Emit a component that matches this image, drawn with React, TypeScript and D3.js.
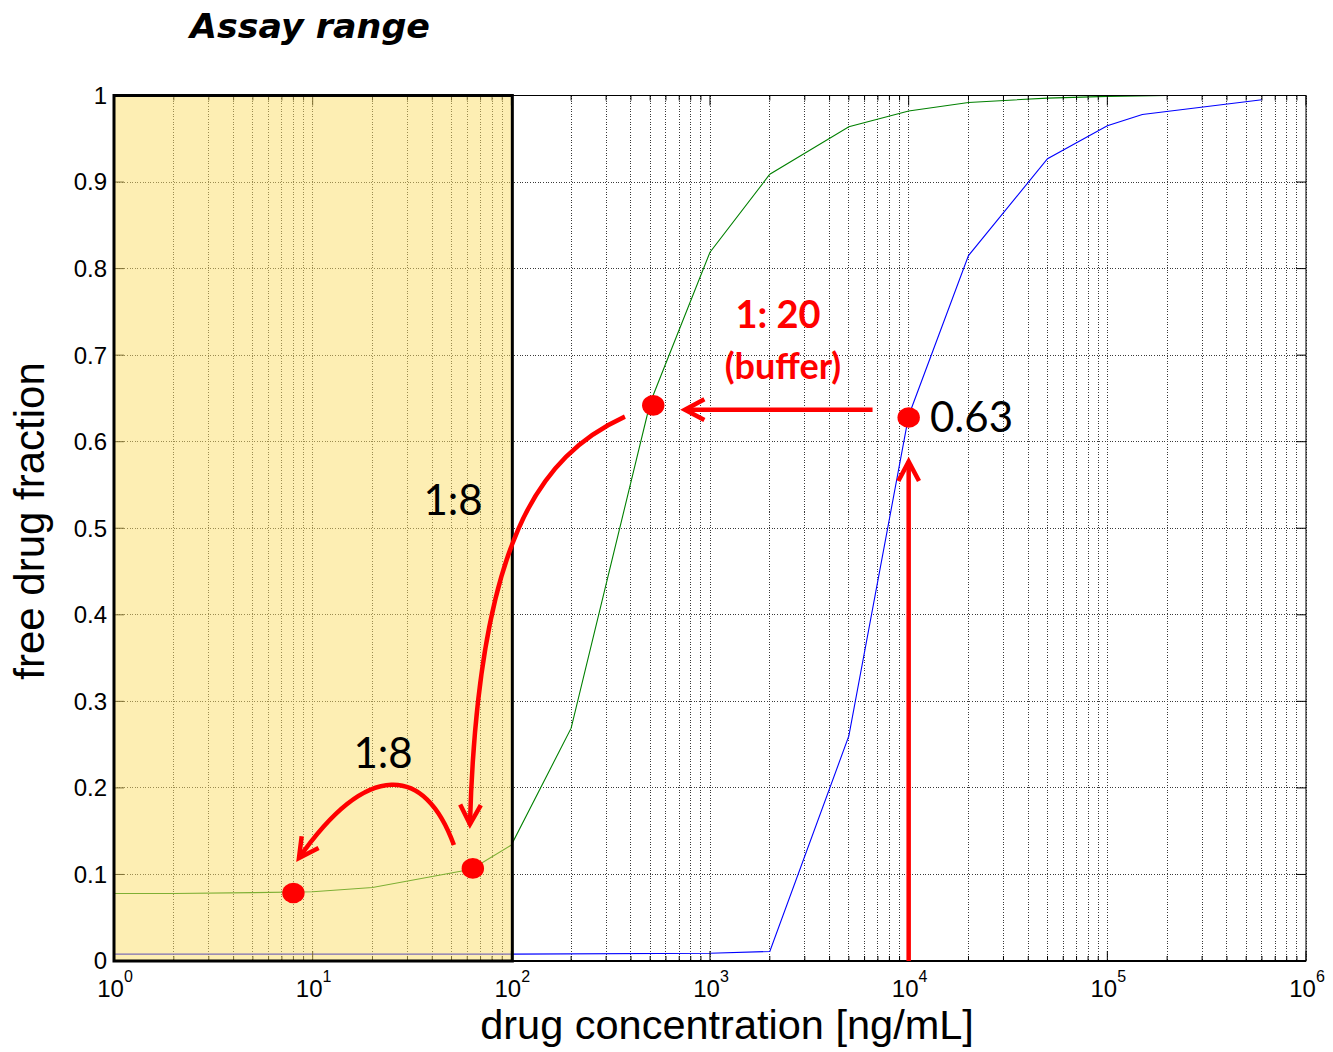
import React from "react";
import * as d3 from "d3";

// ---- data ----
const concGreen = [1, 2, 5, 10, 20, 63, 100, 200, 500, 1000, 2000, 5000, 10000, 20000, 50000, 100000, 200000, 600000];
const fracGreen = [0.078, 0.078, 0.079, 0.080, 0.085, 0.106, 0.134, 0.269, 0.645, 0.819, 0.909, 0.964, 0.982, 0.992, 0.997, 0.999, 1.0, 1.0];
const concBlue = [1, 10, 100, 1000, 2000, 5000, 10000, 20000, 50000, 100000, 150000, 600000];
const fracBlue = [0.008, 0.008, 0.008, 0.009, 0.011, 0.26, 0.63, 0.815, 0.927, 0.965, 0.978, 0.995];
const markerConc = [10000, 518, 64, 8];
const markerFrac = [0.628, 0.642, 0.107, 0.0785];
const yTicks = [0, 0.1, 0.2, 0.3, 0.4, 0.5, 0.6, 0.7, 0.8, 0.9, 1];
const yTickLabels = ["0", "0.1", "0.2", "0.3", "0.4", "0.5", "0.6", "0.7", "0.8", "0.9", "1"];
const xDecades = [0, 1, 2, 3, 4, 5, 6];
const assayRange = [1, 100];

const W = 1333, H = 1052;
const M = { left: 114, right: 1306, top: 95.5, bottom: 961 };

export default function App() {
  const x = d3.scaleLog().domain([1, 1e6]).range([M.left, M.right]);
  const y = d3.scaleLinear().domain([0, 1]).range([M.bottom, M.top]);

  const line = d3.line<[number, number]>().x(d => x(d[0])).y(d => y(d[1]));
  const green = line(concGreen.map((c, i) => [c, fracGreen[i]]));
  const blue = line(concBlue.map((c, i) => [c, fracBlue[i]]));

  const minor: number[] = [];
  for (let dcd = 0; dcd < 6; dcd++) for (let k = 2; k <= 9; k++) minor.push(k * Math.pow(10, dcd));
  const major = xDecades.map(d => Math.pow(10, d));

  const red = "#ff0000";
  const arrowHead = (tx: number, ty: number, dx: number, dy: number, L = 22, ang = 28) => {
    const n = Math.hypot(dx, dy);
    const ux = -dx / n, uy = -dy / n;
    const a = (ang * Math.PI) / 180;
    const r = (s: number) => [tx + L * (ux * Math.cos(s) - uy * Math.sin(s)), ty + L * (ux * Math.sin(s) + uy * Math.cos(s))];
    const p1 = r(a), p2 = r(-a);
    return `M${p1[0]},${p1[1]}L${tx},${ty}L${p2[0]},${p2[1]}`;
  };

  // arrows (data coordinates)
  const vTail = [x(10000), y(0)], vTip = [x(10000), y(0.577)];
  const hTail = [x(6580), y(0.637)], hTip = [x(748), y(0.637)];
  const c1s = [x(373), y(0.629)], c1e = [x(61.9), y(0.158)];
  const c1a = [c1s[0] - 85, c1s[1] + 39], c1b = [c1e[0] + 8, c1e[1] - 284];
  const c2s = [x(51.4), y(0.134)], c2e = [x(8.53), y(0.119)];
  const c2a = [c2s[0] - 29, c2s[1] - 80], c2b = [c2e[0] + 69, c2e[1] - 98];

  const gridStyle = { stroke: "#3a3a3a", strokeWidth: 1, strokeDasharray: "1 1.6", shapeRendering: "crispEdges" as const };
  const sans = "'Liberation Sans', Arial, sans-serif";
  const lato = "Lato, 'Open Sans', sans-serif";

  return (
    <svg width={W} height={H} style={{ position: "absolute", left: 0, top: 0, background: "#fff" }}>
      <rect x={0} y={0} width={W} height={H} fill="#fff" />
      {/* grid */}
      {[...minor, ...major].map((v, i) => (
        <line key={"gx" + i} x1={x(v)} x2={x(v)} y1={M.top} y2={M.bottom} {...gridStyle} />
      ))}
      {yTicks.map((v, i) => (
        <line key={"gy" + i} x1={M.left} x2={M.right} y1={y(v)} y2={y(v)} {...gridStyle} />
      ))}
      {/* curves */}
      <path d={blue || ""} fill="none" stroke="#0000ff" strokeWidth={1.1} />
      <path d={green || ""} fill="none" stroke="#008000" strokeWidth={1.1} />
      {/* ticks */}
      {minor.map((v, i) => (
        <g key={"mt" + i} stroke="#000" strokeWidth={1}>
          <line x1={x(v)} x2={x(v)} y1={M.bottom} y2={M.bottom - 5} />
          <line x1={x(v)} x2={x(v)} y1={M.top} y2={M.top + 5} />
        </g>
      ))}
      {major.map((v, i) => (
        <g key={"Mt" + i} stroke="#000" strokeWidth={1}>
          <line x1={x(v)} x2={x(v)} y1={M.bottom} y2={M.bottom - 10} />
          <line x1={x(v)} x2={x(v)} y1={M.top} y2={M.top + 10} />
        </g>
      ))}
      {yTicks.map((v, i) => (
        <g key={"yt" + i} stroke="#000" strokeWidth={1}>
          <line x1={M.left} x2={M.left + 10} y1={y(v)} y2={y(v)} />
          <line x1={M.right} x2={M.right - 10} y1={y(v)} y2={y(v)} />
        </g>
      ))}
      <rect x={M.left} y={M.top} width={M.right - M.left} height={M.bottom - M.top} fill="none" stroke="#000" strokeWidth={1} />
      <line x1={M.left} x2={M.right} y1={M.bottom} y2={M.bottom} stroke="#000" strokeWidth={2} />
      {/* assay range overlay */}
      <rect x={x(assayRange[0])} y={M.top} width={x(assayRange[1]) - x(assayRange[0]) + 1} height={M.bottom - M.top}
        fill="rgb(252,222,104)" fillOpacity={0.5} stroke="#000" strokeWidth={3} />
      {/* tick labels */}
      {yTicks.map((v, i) => (
        <text key={"yl" + i} x={107} y={y(v)} dy="0.35em" textAnchor="end" fontFamily={sans} fontSize={24}>{yTickLabels[i]}</text>
      ))}
      {xDecades.map((d, i) => (
        <text key={"xl" + i} x={x(Math.pow(10, d)) + 1} y={997} textAnchor="middle" fontFamily={sans} fontSize={24}>
          10<tspan dy={-15} fontSize={16}>{d}</tspan>
        </text>
      ))}
      {/* axis titles */}
      <text x={727} y={1039} textAnchor="middle" fontFamily={sans} fontSize={41.5}>drug concentration [ng/mL]</text>
      <text transform={`translate(44,521) rotate(-90)`} textAnchor="middle" fontFamily={sans} fontSize={42}>free drug fraction</text>
      <text x={190} y={38} fontFamily="'DejaVu Sans', sans-serif" fontWeight="bold" fontStyle="italic" fontSize={33} textLength={240} lengthAdjust="spacingAndGlyphs">Assay range</text>
      {/* annotations */}
      <g stroke={red} strokeWidth={4.5} fill="none" strokeLinecap="butt">
        <line x1={vTail[0]} y1={vTail[1]} x2={vTip[0]} y2={vTip[1]} />
        <path d={arrowHead(vTip[0], vTip[1], 0, -1)} />
        <line x1={hTail[0]} y1={hTail[1]} x2={hTip[0]} y2={hTip[1]} />
        <path d={arrowHead(hTip[0], hTip[1], -1, 0)} />
        <path d={`M${c1s[0]},${c1s[1]}C${c1a[0]},${c1a[1]} ${c1b[0]},${c1b[1]} ${c1e[0]},${c1e[1]}`} />
        <path d={arrowHead(c1e[0], c1e[1], c1e[0] - c1b[0], c1e[1] - c1b[1])} />
        <path d={`M${c2s[0]},${c2s[1]}C${c2a[0]},${c2a[1]} ${c2b[0]},${c2b[1]} ${c2e[0]},${c2e[1]}`} />
        <path d={arrowHead(c2e[0], c2e[1], c2e[0] - c2b[0], c2e[1] - c2b[1])} />
      </g>
      {markerConc.map((c, i) => (
        <ellipse key={"m" + i} cx={x(c)} cy={y(markerFrac[i])} rx={11.2} ry={10.3} fill={red} />
      ))}
      <text x={930} y={432} fontFamily={lato} fontSize={42} fill="#000">0.63</text>
      <text x={453} y={515} textAnchor="middle" fontFamily={lato} fontSize={42} fill="#000">1:8</text>
      <text x={383} y={768} textAnchor="middle" fontFamily={lato} fontSize={42} fill="#000">1:8</text>
      <text x={778} y={328} textAnchor="middle" fontFamily={lato} fontWeight="bold" fontSize={38} fill={red}>1: 20</text>
      <text x={783} y={379} textAnchor="middle" fontFamily={lato} fontWeight="bold" fontSize={36} fill={red}>(buffer)</text>
    </svg>
  );
}
